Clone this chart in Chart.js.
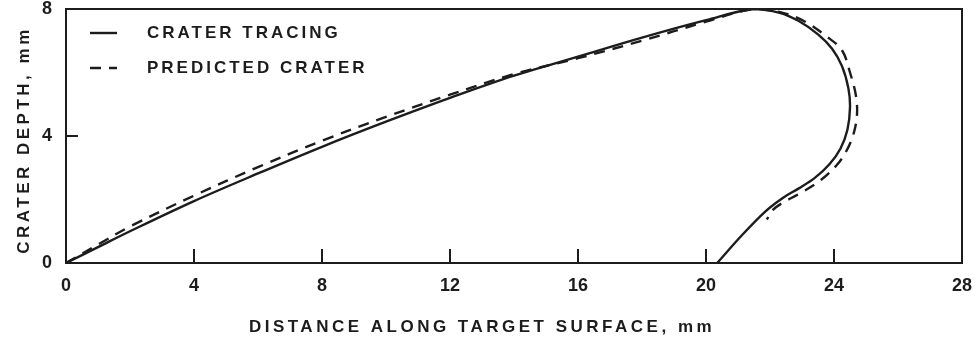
<!DOCTYPE html>
<html>
<head>
<meta charset="utf-8">
<style>
  html, body { margin: 0; padding: 0; background: #fff; }
</style>
<script src="https://cdn.jsdelivr.net/npm/chart.js@4.4.1/dist/chart.umd.min.js"></script>
</head>
<body>
<canvas id="craterChart" width="978" height="339"></canvas>
<script>
// --- Data (mm)
const xTicks = [0, 4, 8, 12, 16, 20, 24, 28];
const yTicks = [0, 4, 8];

const tracingX = [0, 1, 2, 4, 6, 8, 10, 12, 14, 16, 18, 20, 21.5, 22.3, 22.9, 23.5, 23.94, 24.25, 24.45, 24.5, 24.42, 24.2, 23.85, 23.4, 22.9, 22.4, 21.85, 21.1, 20.35];
const tracingY = [0, 0.5, 1.0, 1.95, 2.82, 3.66, 4.45, 5.2, 5.9, 6.5, 7.1, 7.65, 8.0, 7.88, 7.62, 7.2, 6.75, 6.2, 5.5, 4.9, 4.2, 3.6, 3.1, 2.68, 2.35, 2.05, 1.62, 0.85, 0];

const predictedX = [0, 1, 2, 4, 6, 8, 10, 12, 14, 16, 18, 20, 21.5, 22.4, 23.1, 23.75, 24.25, 24.5, 24.68, 24.72, 24.62, 24.4, 24.1, 23.6, 22.95, 22.4, 22.1, 21.9];
const predictedY = [0, 0.58, 1.15, 2.12, 3.02, 3.85, 4.6, 5.3, 5.95, 6.45, 7.0, 7.6, 8.0, 7.88, 7.6, 7.15, 6.7, 6.0, 5.3, 4.7, 4.1, 3.55, 3.1, 2.62, 2.2, 1.9, 1.68, 1.37];

const ink = '#1c1c1c';
const family = '"Liberation Sans", Arial, sans-serif';

function toPoints(xs, ys) {
    return xs.map((x, i) => ({ x: x, y: ys[i] }));
}

// frame, inside tick marks, legend and axis titles
const paperPlugin = {
    id: 'paper',
    afterDatasetsDraw(chart) {
        const { ctx, chartArea: a, scales } = chart;
        ctx.save();
        ctx.strokeStyle = ink;
        ctx.lineWidth = 2;
        ctx.strokeRect(a.left, a.top, a.right - a.left, a.bottom - a.top);

        ctx.beginPath();
        scales.x.ticks.forEach(t => {
            if (t.value === scales.x.min || t.value === scales.x.max) return;
            const px = scales.x.getPixelForValue(t.value);
            ctx.moveTo(px, a.bottom);
            ctx.lineTo(px, a.bottom - 14);
        });
        scales.y.ticks.forEach(t => {
            if (t.value === scales.y.min || t.value === scales.y.max) return;
            const py = scales.y.getPixelForValue(t.value);
            ctx.moveTo(a.left, py);
            ctx.lineTo(a.left + 12, py);
        });
        ctx.stroke();
        ctx.restore();
    },
    afterDraw(chart) {
        const { ctx, chartArea: a } = chart;
        ctx.save();
        ctx.fillStyle = ink;
        ctx.strokeStyle = ink;
        ctx.textBaseline = 'middle';

        // legend
        ctx.font = 'bold 17px ' + family;
        ctx.letterSpacing = '3px';
        chart.data.datasets.forEach((ds, i) => {
            const y = a.top + 24 + i * 35;
            ctx.beginPath();
            ctx.lineWidth = ds.borderWidth;
            ctx.setLineDash(ds.borderDash || []);
            ctx.moveTo(a.left + 24, y);
            ctx.lineTo(a.left + 51, y);
            ctx.stroke();
            ctx.setLineDash([]);
            ctx.textAlign = 'left';
            ctx.fillText(ds.label, a.left + 81, y);
        });

        // axis titles
        ctx.letterSpacing = '3.5px';
        ctx.textAlign = 'center';
        ctx.fillText('DISTANCE ALONG TARGET SURFACE, mm', a.left + 416, 327);

        ctx.translate(24, a.top + 131);
        ctx.rotate(-Math.PI / 2);
        ctx.fillText('CRATER DEPTH, mm', 0, 0);
        ctx.restore();
    }
};

const tickFont = { family: family, size: 18, weight: 'bold', lineHeight: 1 };

new Chart(document.getElementById('craterChart').getContext('2d'), {
    type: 'scatter',
    data: {
        datasets: [{
            label: 'CRATER TRACING',
            data: toPoints(tracingX, tracingY),
            showLine: true,
            borderColor: ink,
            borderWidth: 2.4,
            pointRadius: 0,
            tension: 0.35,
            fill: false
        }, {
            label: 'PREDICTED CRATER',
            data: toPoints(predictedX, predictedY),
            showLine: true,
            borderColor: ink,
            borderWidth: 2.4,
            borderDash: [11, 8],
            pointRadius: 0,
            tension: 0.35,
            fill: false
        }]
    },
    options: {
        responsive: false,
        devicePixelRatio: 1,
        animation: false,
        layout: { padding: { top: 9, right: 16, left: 0, bottom: 0 } },
        plugins: {
            legend: { display: false },
            tooltip: { enabled: false }
        },
        scales: {
            x: {
                type: 'linear',
                min: 0,
                max: 28,
                afterBuildTicks: s => { s.ticks = xTicks.map(v => ({ value: v })); },
                afterFit: s => { s.height = 76; s.paddingLeft = 0; s.paddingRight = 0; },
                grid: { display: false, drawTicks: false },
                border: { display: false },
                ticks: { padding: 14, color: ink, font: tickFont, maxRotation: 0, autoSkip: false }
            },
            y: {
                type: 'linear',
                min: 0,
                max: 8,
                afterBuildTicks: s => { s.ticks = yTicks.map(v => ({ value: v })); },
                afterFit: s => { s.width = 66; s.paddingTop = 0; s.paddingBottom = 0; },
                grid: { display: false, drawTicks: false },
                border: { display: false },
                ticks: { padding: 14, color: ink, font: tickFont }
            }
        }
    },
    plugins: [paperPlugin]
});
</script>
</body>
</html>
